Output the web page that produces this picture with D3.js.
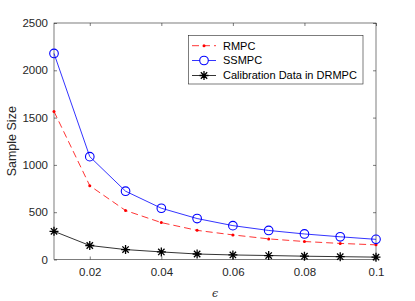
<!DOCTYPE html>
<html>
<head>
<meta charset="utf-8">
<script src="https://cdn.jsdelivr.net/npm/d3@7"></script>
<style>
  body { margin: 0; background: #fff; }
  text { font-family: "Liberation Sans", Arial, sans-serif; }
</style>
</head>
<body>
<svg id="chart" width="415" height="301"></svg>
<script>
// values
var epsilons = [0.01, 0.02, 0.03, 0.04, 0.05, 0.06, 0.07, 0.08, 0.09, 0.1];
var rmpc = [1565, 780, 518, 390, 308, 260, 218, 190, 170, 155];
var ssmpc = [2178, 1087, 722, 542, 433, 358, 307, 270, 240, 213];
var calib = [298, 148, 105, 80, 58, 48, 42, 35, 30, 25];
var xTicks = [0.02, 0.04, 0.06, 0.08, 0.1];
var yTicks = [0, 500, 1000, 1500, 2000, 2500];
var legendNames = ["RMPC", "SSMPC", "Calibration Data in DRMPC"];

var svg = d3.select("#chart");
// plot box edges (window.top is reserved, so no "top" here)
var plotL = 54, plotR = 376, plotT = 23, plotB = 259.5;
var axisColor = "#262626";

let x = d3.scaleLinear().domain([0.01, 0.1]).range([plotL, plotR]);
let y = d3.scaleLinear().domain([0, 2500]).range([plotB, plotT]);

// axes box
svg.append("rect")
  .attr("x", plotL).attr("y", plotT)
  .attr("width", plotR - plotL).attr("height", plotB - plotT)
  .attr("fill", "none")
  .attr("stroke", axisColor)
  .attr("stroke-width", 0.6);

let xAxis = svg.append("g")
  .attr("transform", "translate(0," + plotB + ")")
  .call(d3.axisBottom(x).tickValues(xTicks).tickSizeInner(-3).tickSizeOuter(0)
    .tickPadding(8).tickFormat(d3.format("")));
let xAxisTop = svg.append("g")
  .attr("transform", "translate(0," + plotT + ")")
  .call(d3.axisTop(x).tickValues(xTicks).tickSizeInner(-3).tickSizeOuter(0).tickFormat(""));
let yAxis = svg.append("g")
  .attr("transform", "translate(" + plotL + ",0)")
  .call(d3.axisLeft(y).tickValues(yTicks).tickSizeInner(-3).tickSizeOuter(0).tickPadding(6)
    .tickFormat(d3.format("")));
let yAxisRight = svg.append("g")
  .attr("transform", "translate(" + plotR + ",0)")
  .call(d3.axisRight(y).tickValues(yTicks).tickSizeInner(-3).tickSizeOuter(0).tickFormat(""));

[xAxis, xAxisTop, yAxis, yAxisRight].forEach(g => {
  g.select(".domain").remove();
  g.selectAll("line").attr("stroke", axisColor).attr("stroke-width", 0.6);
  g.selectAll("text").attr("fill", axisColor).style("font-size", "11.5px")
    .style("font-family", "'Liberation Sans', Arial, sans-serif");
});

// axis labels
svg.append("text")
  .attr("transform", "translate(15.5," + ((plotT + plotB) / 2) + ") rotate(-90)")
  .attr("text-anchor", "middle")
  .attr("fill", axisColor)
  .style("font-size", "12.5px")
  .text("Sample Size");

svg.append("text")
  .attr("x", (plotL + plotR) / 2)
  .attr("y", 297)
  .attr("text-anchor", "middle")
  .attr("fill", axisColor)
  .style("font-size", "11px")
  .style("font-family", "'DejaVu Serif', serif")
  .style("font-style", "italic")
  .text("\u03f5");

let line = d3.line().x((d, i) => x(epsilons[i])).y(d => y(d));

// asterisk marker path
function starPath(cx, cy, r) {
  let d = "";
  for (let k = 0; k < 4; k++) {
    let a = k * Math.PI / 4;
    let dx = r * Math.cos(a), dy = r * Math.sin(a);
    d += "M" + (cx - dx) + "," + (cy - dy) + "L" + (cx + dx) + "," + (cy + dy);
  }
  return d;
}

// series
svg.append("path").datum(calib)
  .attr("fill", "none").attr("stroke", "#000").attr("stroke-width", 0.8)
  .attr("d", line);
svg.append("g").selectAll("path").data(calib).enter().append("path")
  .attr("d", (d, i) => starPath(x(epsilons[i]), y(d), 4.5))
  .attr("stroke", "#000").attr("stroke-width", 1.3);

svg.append("path").datum(rmpc)
  .attr("fill", "none").attr("stroke", "#ff0000").attr("stroke-width", 0.8)
  .attr("stroke-dasharray", "7,4")
  .attr("d", line);
svg.append("g").selectAll("circle").data(rmpc).enter().append("circle")
  .attr("cx", (d, i) => x(epsilons[i])).attr("cy", d => y(d))
  .attr("r", 1.5).attr("fill", "#ff0000");

svg.append("path").datum(ssmpc)
  .attr("fill", "none").attr("stroke", "#0000ff").attr("stroke-width", 0.8)
  .attr("d", line);
svg.append("g").selectAll("circle").data(ssmpc).enter().append("circle")
  .attr("cx", (d, i) => x(epsilons[i])).attr("cy", d => y(d))
  .attr("r", 4.3).attr("fill", "none").attr("stroke", "#0000ff").attr("stroke-width", 1.1);

// legend
let legend = svg.append("g");
legend.append("rect")
  .attr("x", 188.5).attr("y", 35.5).attr("width", 174.5).attr("height", 48.5)
  .attr("fill", "#fff").attr("stroke", axisColor).attr("stroke-width", 0.6);

let rowY = [45.7, 60.5, 75.5];
let styles = [
  { color: "#ff0000", dash: "7,4", mark: "dot" },
  { color: "#0000ff", dash: null, mark: "circle" },
  { color: "#000", dash: null, mark: "star" }
];
legendNames.forEach((name, i) => {
  let s = styles[i];
  legend.append("line")
    .attr("x1", 192).attr("x2", 216).attr("y1", rowY[i]).attr("y2", rowY[i])
    .attr("stroke", s.color).attr("stroke-width", 0.8)
    .attr("stroke-dasharray", s.dash);
  if (s.mark === "dot") {
    legend.append("circle").attr("cx", 204).attr("cy", rowY[i]).attr("r", 1.5).attr("fill", s.color);
  } else if (s.mark === "circle") {
    legend.append("circle").attr("cx", 204).attr("cy", rowY[i]).attr("r", 4.3)
      .attr("fill", "#fff").attr("stroke", s.color).attr("stroke-width", 1.1);
  } else {
    legend.append("path").attr("d", starPath(204, rowY[i], 4.5))
      .attr("stroke", s.color).attr("stroke-width", 1.3);
  }
  legend.append("text")
    .attr("x", 223).attr("y", rowY[i]).attr("dy", "0.35em")
    .attr("fill", "#000").style("font-size", "11px")
    .text(name);
});
</script>
</body>
</html>
